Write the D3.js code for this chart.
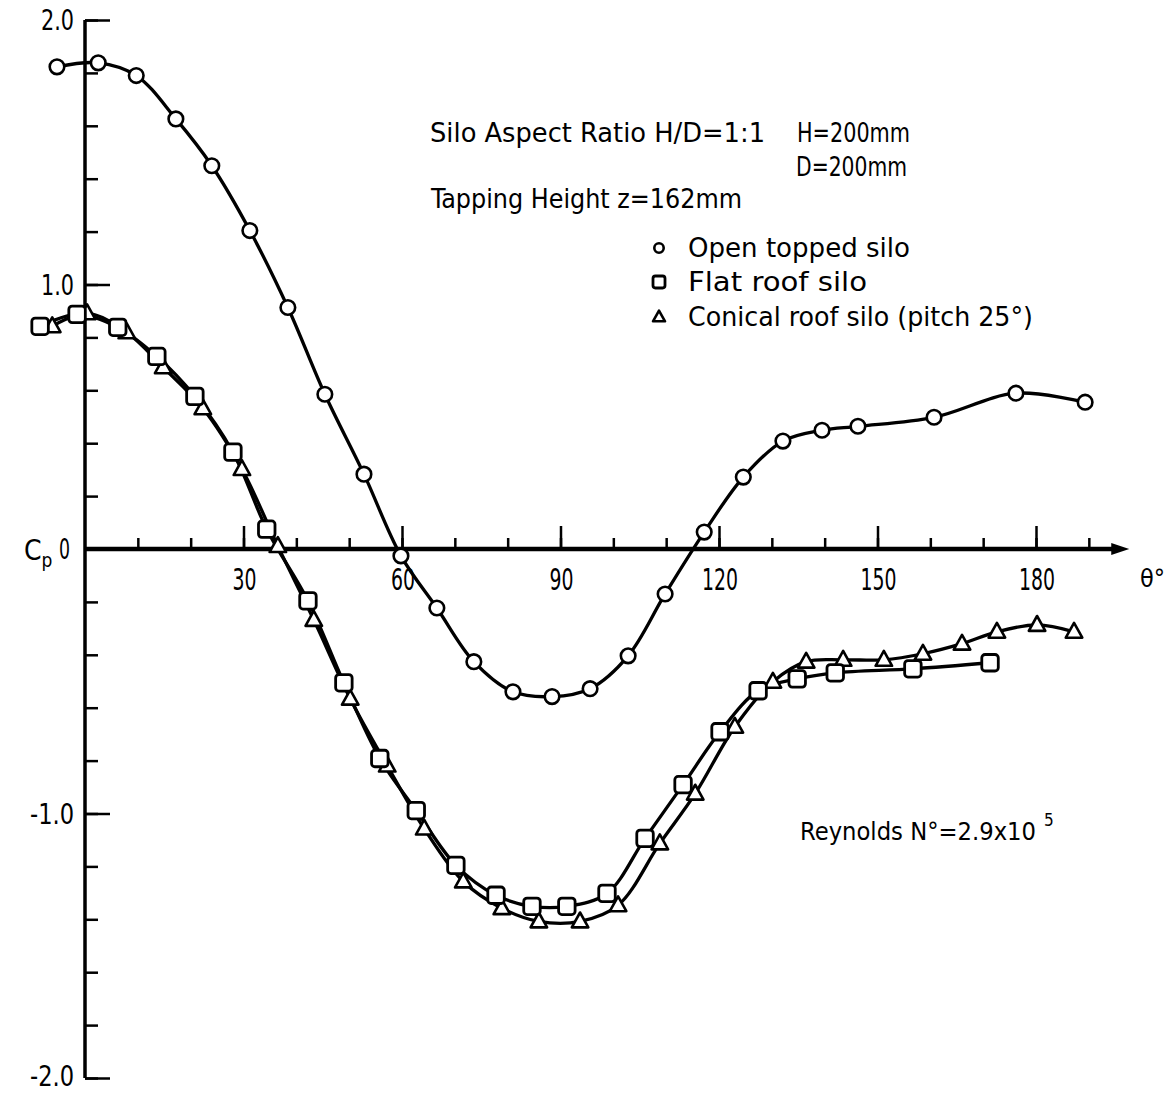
<!DOCTYPE html>
<html><head><meta charset="utf-8">
<script src="https://cdn.jsdelivr.net/npm/d3@7/dist/d3.min.js"></script>
<style>
body{margin:0;background:#fff}
svg{display:block}
text{font-family:"Liberation Sans Narrow","DejaVu Sans Condensed","DejaVu Sans",sans-serif;fill:#000}
</style>
</head><body>
<svg id="c" width="1168" height="1093"></svg>
<script>
// ---- data (theta in degrees, Cp) ----
const openTheta = [-5.3, 2.5, 9.7, 17.2, 24.0, 31.2, 38.4, 45.4, 52.8, 59.8, 66.6, 73.6, 81.0, 88.4, 95.6, 102.8, 109.8, 117.2, 124.6, 132.1, 139.5, 146.3, 160.7, 176.2, 189.3];
const openCp    = [1.823, 1.838, 1.79, 1.626, 1.449, 1.204, 0.913, 0.585, 0.283, -0.026, -0.223, -0.426, -0.540, -0.558, -0.528, -0.404, -0.170, 0.064, 0.272, 0.408, 0.449, 0.464, 0.498, 0.589, 0.555];

const flatTheta = [-8.5, -1.5, 6.2, 13.6, 20.8, 28.0, 34.4, 42.2, 49.0, 55.8, 62.7, 70.2, 77.8, 84.6, 91.2, 98.8, 106.0, 113.2, 120.2, 127.4, 134.8, 142.0, 156.7, 171.3];
const flatCp    = [0.842, 0.887, 0.838, 0.728, 0.577, 0.366, 0.075, -0.196, -0.506, -0.792, -0.989, -1.196, -1.309, -1.351, -1.351, -1.302, -1.094, -0.891, -0.691, -0.536, -0.491, -0.468, -0.453, -0.430];

const coneTheta = [-6.2, 0.4, 7.9, 14.8, 22.3, 29.7, 36.5, 43.3, 50.2, 57.2, 64.2, 71.6, 78.9, 85.9, 93.7, 100.9, 108.8, 115.5, 123.0, 130.2, 136.5, 143.5, 151.2, 158.6, 166.0, 172.6, 180.2, 187.2];
const coneCp    = [0.842, 0.891, 0.819, 0.687, 0.532, 0.302, 0.011, -0.268, -0.566, -0.819, -1.057, -1.257, -1.358, -1.408, -1.408, -1.347, -1.113, -0.925, -0.672, -0.502, -0.426, -0.419, -0.419, -0.396, -0.358, -0.313, -0.287, -0.313];

const xTickLabels = [30, 60, 90, 120, 150, 180];
const yTickLabels = ["2.0", "1.0", "0", "-1.0", "-2.0"];
const yTickValues = [2, 1, 0, -1, -2];
const legendLabels = ["Open topped silo", "Flat roof silo", "Conical roof silo (pitch 25\u00b0)"];

// ---- scales ----
const svg = d3.select("#c");
const x = d3.scaleLinear().domain([0, 180]).range([85, 1036]);
const y = d3.scaleLinear().domain([-2, 2]).range([1078, 20]);

// ---- axes ----
const ax = svg.append("g");
ax.append("line").attr("x1", x(0)).attr("x2", x(0)).attr("y1", y(2)).attr("y2", y(-2))
  .attr("stroke", "#000").attr("stroke-width", 3.5);
ax.append("line").attr("x1", x(0)).attr("x2", x(195)).attr("y1", y(0)).attr("y2", y(0))
  .attr("stroke", "#000").attr("stroke-width", 4.5);
ax.append("path").attr("d", d3.line()([[x(195) - 4, y(0) - 6], [x(195) + 14, y(0)], [x(195) - 4, y(0) + 6]]) + "Z")
  .attr("fill", "#000");

function styleAxis(g) {
  g.select(".domain").remove();
  g.selectAll(".tick line").attr("stroke", "#000").attr("stroke-width", 2.5);
}
ax.append("g").attr("transform", `translate(${x(0)},0)`)
  .call(d3.axisRight(y).tickValues(d3.range(-2, 2.01, 0.2)).tickSize(13).tickFormat(""))
  .call(styleAxis);
ax.append("g").attr("transform", `translate(${x(0)},0)`)
  .call(d3.axisRight(y).tickValues(yTickValues).tickSize(25).tickFormat(""))
  .call(styleAxis);
ax.append("g").attr("transform", `translate(0,${y(0)})`)
  .call(d3.axisTop(x).tickValues(d3.range(10, 191, 10)).tickSize(11).tickFormat(""))
  .call(styleAxis);
ax.append("g").attr("transform", `translate(0,${y(0)})`)
  .call(d3.axisTop(x).tickValues(xTickLabels).tickSize(23).tickFormat(""))
  .call(styleAxis);

// x tick labels
svg.append("g").selectAll("text").data(xTickLabels).join("text")
  .attr("x", d => x(d) + 1).attr("y", 590).attr("text-anchor", "middle")
  .attr("font-size", 30)
  .attr("textLength", d => String(d).length * 12).attr("lengthAdjust", "spacingAndGlyphs")
  .text(d => d);
// y tick labels
svg.append("g").selectAll("text").data(yTickValues).join("text")
  .attr("x", (d, i) => i === 2 ? 70 : 74).attr("y", (d, i) => y(d) + (i === 4 ? 8 : 10)).attr("text-anchor", "end")
  .attr("font-size", 28)
  .attr("textLength", (d, i) => yTickLabels[i].length * 11).attr("lengthAdjust", "spacingAndGlyphs")
  .text((d, i) => yTickLabels[i]);

// axis titles
const cp = svg.append("text").attr("x", 24).attr("y", 560).attr("font-size", 28);
cp.append("tspan").text("C");
cp.append("tspan").attr("font-size", 19).attr("dy", 7).text("p");
svg.append("text").attr("x", 1140).attr("y", 587).attr("font-size", 25).text("\u03b8\u00b0");

// ---- curves ----
const lineGen = d3.line().x(d => x(d[0])).y(d => y(d[1])).curve(d3.curveCatmullRom.alpha(0.5));
const series = [
  { t: openTheta, c: openCp, m: "circle" },
  { t: flatTheta, c: flatCp, m: "square" },
  { t: coneTheta, c: coneCp, m: "triangle" }
];
series.forEach(s => {
  const pts = s.t.map((t, i) => [t, s.c[i]]);
  svg.append("path").attr("d", lineGen(pts)).attr("fill", "none")
    .attr("stroke", "#000").attr("stroke-width", 3.3);
});

function marker(g, type, cx, cy, size) {
  if (type === "circle") {
    g.append("circle").attr("cx", cx).attr("cy", cy).attr("r", size * 0.47)
      .attr("fill", "#fff").attr("stroke", "#000").attr("stroke-width", 2.6);
  } else if (type === "square") {
    g.append("rect").attr("x", cx - size / 2).attr("y", cy - size / 2).attr("width", size).attr("height", size)
      .attr("rx", size * 0.2).attr("fill", "#fff").attr("stroke", "#000").attr("stroke-width", 2.8);
  } else {
    const h = size * 0.9;
    g.append("path").attr("d", `M${cx},${cy - h * 0.6}L${cx + size / 2},${cy + h * 0.4}L${cx - size / 2},${cy + h * 0.4}Z`)
      .attr("fill", "#fff").attr("stroke", "#000").attr("stroke-width", 2.6).attr("stroke-linejoin", "round");
  }
}
const mk = svg.append("g");
[series[2], series[1], series[0]].forEach(s => {
  s.t.forEach((t, i) => marker(mk, s.m, x(t), y(s.c[i]), s.m === "circle" ? 15.5 : 16.5));
});

// ---- annotations ----
const ann = svg.append("g");
function txt(str, xx, yy, len, fs) {
  return ann.append("text").attr("x", xx).attr("y", yy).attr("font-size", fs || 26)
    .attr("textLength", len).attr("lengthAdjust", "spacingAndGlyphs").text(str);
}
txt("Silo Aspect Ratio H/D=1:1", 430, 142, 335);
txt("H=200mm", 797, 142, 113);
txt("D=200mm", 796, 176, 111);
txt("Tapping Height  z=162mm", 431, 208, 311);

const legY = [257, 291, 326];
const legLen = [222, 179, 345];
const legM = ["circle", "square", "triangle"];
legendLabels.forEach((l, i) => {
  txt(l, 688, legY[i], legLen[i]);
  marker(ann, legM[i], 659, legY[i] - 9, legM[i] === "circle" ? 10 : 12);
});

txt("Reynolds N\u00b0=2.9x10", 800, 840, 236, 25);
ann.append("text").attr("x", 1044).attr("y", 826).attr("font-size", 17).text("5");
</script>
</body></html>
